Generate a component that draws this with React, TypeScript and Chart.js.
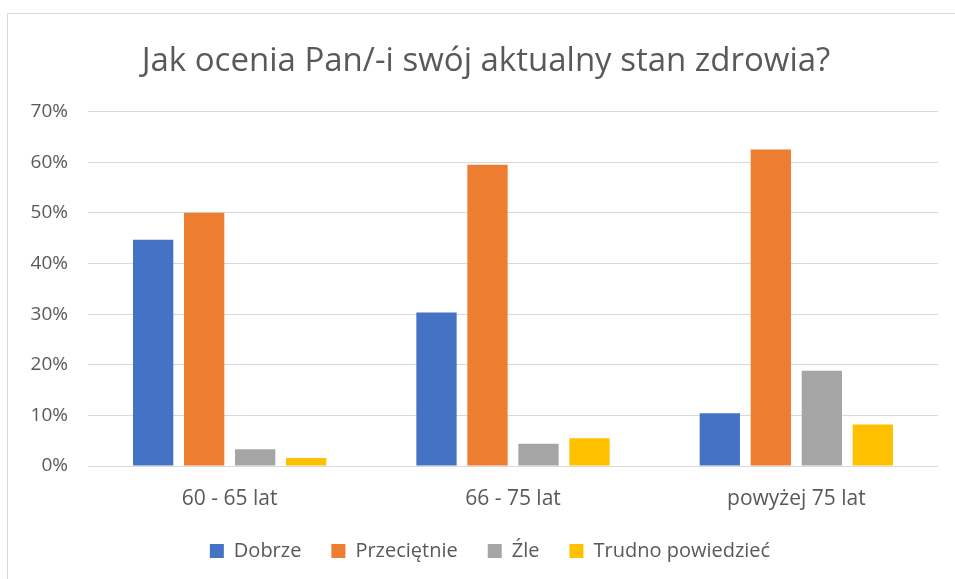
import React, { useEffect, useRef } from "react";
import { Chart, registerables } from "chart.js";

Chart.register(...registerables);

const title = "Jak ocenia Pan/-i swój aktualny stan zdrowia?";
const categories = ["60 - 65 lat", "66 - 75 lat", "powyżej 75 lat"];
const seriesNames = ["Dobrze", "Przeciętnie", "Źle", "Trudno powiedzieć"];
const dobrze = [44.7, 30.3, 10.4];
const przecietnie = [50.0, 59.5, 62.5];
const zle = [3.3, 4.4, 18.8];
const trudno = [1.6, 5.5, 8.2];
const colors = ["#4472C4", "#ED7D31", "#A5A5A5", "#FFC000"];
const yMax = 70;
const yStep = 10;

const FONT = "'Open Sans', sans-serif";

const boxShift = {
  id: "boxShift",
  afterLayout(chart: any) {
    if (chart.titleBlock) chart.titleBlock.right += 34;
    if (chart.legend) {
      chart.legend.left += 21;
      chart.legend.right += 21;
    }
  },
};

export default function App() {
  const ref = useRef<HTMLCanvasElement | null>(null);
  useEffect(() => {
    if (!ref.current) return;
    const values = [dobrze, przecietnie, zle, trudno];
    const chart = new Chart(ref.current, {
      type: "bar",
      plugins: [boxShift],
      data: {
        labels: categories,
        datasets: seriesNames.map((name, i) => ({
          label: name,
          data: values[i],
          backgroundColor: colors[i],
          borderWidth: 0,
          categoryPercentage: 0.72,
          barPercentage: 0.79,
        })),
      },
      options: {
        animation: false,
        responsive: false,
        layout: { padding: { left: 0, right: 17, top: 42, bottom: 8 } },
        plugins: {
          title: {
            display: true,
            text: title,
            color: "#595959",
            font: { family: FONT, size: 33, weight: "normal" },
            padding: { top: 0, bottom: 30 },
          },
          legend: {
            position: "bottom",
            labels: {
              boxWidth: 14,
              boxHeight: 14,
              color: "#595959",
              padding: 30,
              font: { family: FONT, size: 20 },
            },
          },
          tooltip: { enabled: false },
        },
        scales: {
          x: {
            grid: { display: false },
            border: { display: false },
            afterFit: (s: any) => {
              s.height = 45;
              s._computeLabelArea = () => undefined;
            },
            ticks: {
              color: "#595959",
              font: { family: FONT, size: 21 },
              padding: 12,
            },
          },
          y: {
            min: 0,
            max: yMax,
            afterFit: (s: any) => {
              s.width = 88;
            },
            grid: { color: "#D9D9D9", lineWidth: 1, drawTicks: false },
            border: { display: false },
            ticks: {
              stepSize: yStep,
              color: "#595959",
              padding: 20,
              font: { family: FONT, size: 19 },
              callback: (v: any) => v + "%",
            },
          },
        },
      },
    });
    return () => chart.destroy();
  }, []);
  return (
    <div style={{ position: "fixed", left: 0, top: 0, width: 955, height: 579, background: "#fff", overflow: "hidden" }}>
      <div style={{ position: "absolute", left: 7, top: 13, width: 1000, height: 1000, border: "1px solid #D9D9D9" }} />
      <canvas ref={ref} width={955} height={579} style={{ position: "absolute", left: 0, top: 0 }} />
    </div>
  );
}
